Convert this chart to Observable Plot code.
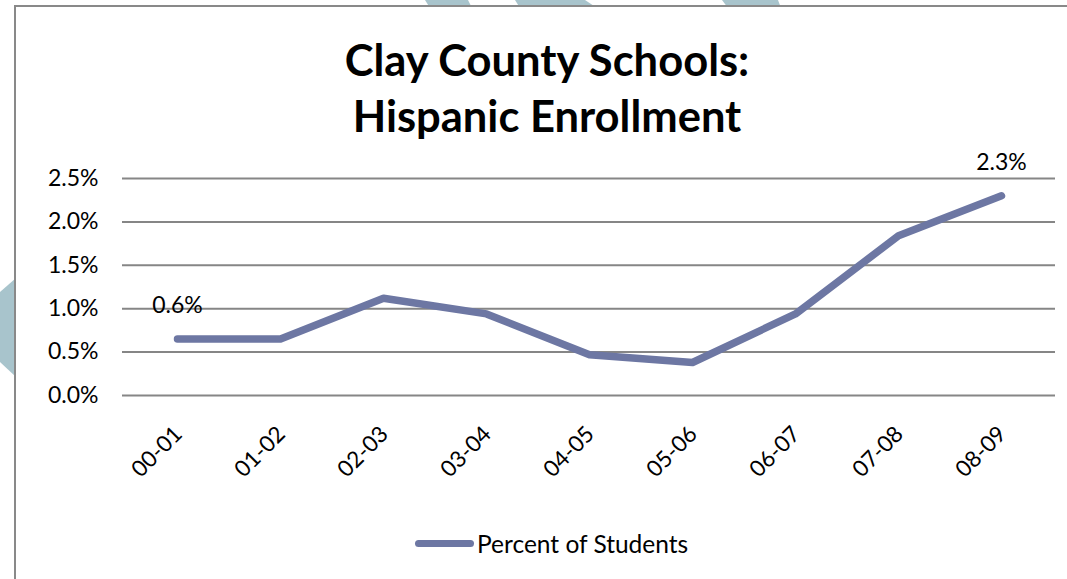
<!DOCTYPE html>
<html><head><meta charset="utf-8">
<script src="https://cdn.jsdelivr.net/npm/d3@7"></script>
<script src="https://cdn.jsdelivr.net/npm/@observablehq/plot@0.6"></script>
<style>
html,body{margin:0;padding:0;background:#fff;}
body{width:1067px;height:579px;overflow:hidden;position:relative;font-family:Lato,"Open Sans",sans-serif;color:#000;}
#bg{position:absolute;left:0;top:0;}
#box{position:absolute;left:14px;top:5px;width:1100px;height:640px;border:2px solid #898989;background:#fff;box-sizing:border-box;}
#title{position:absolute;left:0;top:31px;width:1094px;text-align:center;font-weight:bold;font-size:43.5px;line-height:56px;}
#chart{position:absolute;left:0;top:150px;}
#swatch{position:absolute;left:415px;top:540px;width:59px;height:7px;border-radius:4px;background:#6d77a3;}
#ltext{position:absolute;left:477px;top:528px;font-size:24.5px;line-height:32px;}
</style></head>
<body>
<svg id="bg" width="1067" height="579">
  <g fill="#a8c4cc">
    <polygon points="425,0 468,0 472,8 430,8"/>
    <polygon points="515,0 585,0 597,8 520,8"/>
    <polygon points="722,0 778,0 781,8 728,8"/>
    <polygon points="16,278 0,292 0,362 16,377"/>
  </g>
</svg>
<div id="box"></div>
<div id="title">Clay County Schools:<br>Hispanic Enrollment</div>
<div id="chart"></div>
<div id="swatch"></div>
<div id="ltext">Percent of Students</div>
<script>
const years = ["00-01","01-02","02-03","03-04","04-05","05-06","06-07","07-08","08-09"];
const pct = [0.65,0.65,1.12,0.94,0.47,0.38,0.94,1.84,2.30];
const yTicks = [0,0.5,1.0,1.5,2.0,2.5];
const labelYears = ["00-01","08-09"];
const labelValues = [0.65,2.30];
const labelTexts = ["0.6%","2.3%"];

const data = years.map((y,i)=>({year:y, value:pct[i]}));
const labels = labelYears.map((y,i)=>({year:y, value:labelValues[i], text:labelTexts[i]}));

const plot = Plot.plot({
  width:1067, height:380,
  marginLeft:122, marginRight:12, marginTop:28, marginBottom:135,
  style:{fontFamily:"Lato, 'Open Sans', sans-serif", fontSize:"23px", color:"#000", background:"transparent", overflow:"visible"},
  x:{type:"point", domain:years, padding:0.5, label:null},
  y:{domain:[0,2.5], label:null},
  marks:[
    Plot.gridY(yTicks,{stroke:"#868686", strokeOpacity:1, strokeWidth:2}),
    Plot.axisY(yTicks,{tickSize:0, tickPadding:24, tickFormat:d=>d.toFixed(1)+"%", fontSize:23, label:null}),
    Plot.axisX({tickSize:0, tickPadding:3, tickRotate:-45, dx:1, dy:32, fontSize:22.5, label:null}),
    Plot.line(data,{x:"year", y:"value", stroke:"#6d77a3", strokeWidth:7.5, strokeLinecap:"round", strokeLinejoin:"round"}),
    Plot.text(labels,{x:"year", y:"value", text:"text", dy:-33, fontSize:23, fill:"#000"})
  ]
});
document.getElementById("chart").appendChild(plot);
</script>
</body></html>
